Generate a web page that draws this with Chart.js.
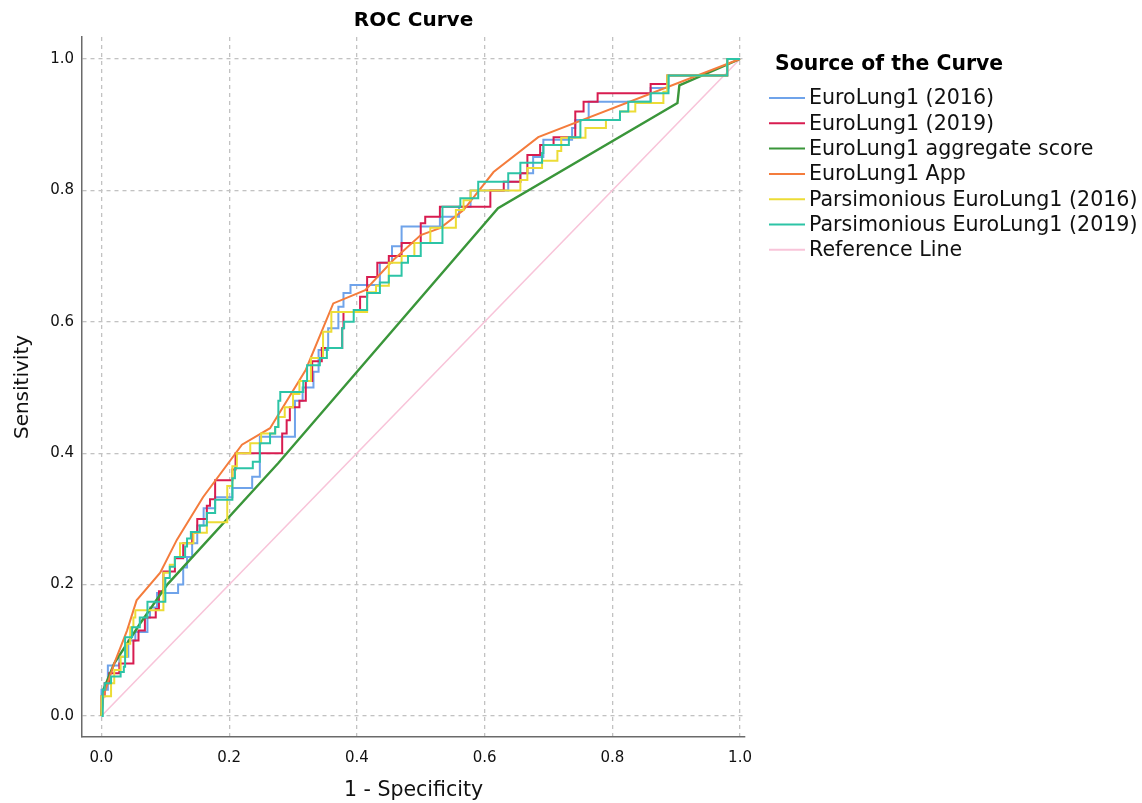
<!DOCTYPE html>
<html><head><meta charset="utf-8">
<script src="https://cdn.jsdelivr.net/npm/chart.js@4.4.1/dist/chart.umd.min.js"></script>
<style>html,body{margin:0;padding:0;background:#fff}#wrap{position:relative;width:1142px;height:803px}</style>
</head><body><div id="wrap"><canvas id="c" width="1142" height="803"></canvas></div>
<script>
// ---- data ----
const chartTitle = 'ROC Curve';
const legendTitle = 'Source of the Curve';
const xTitle = '1 - Specificity';
const yTitle = 'Sensitivity';
const tickValues = [0, 0.2, 0.4, 0.6, 0.8, 1.0];
const seriesNames = ['EuroLung1 (2016)', 'EuroLung1 (2019)', 'EuroLung1 aggregate score', 'EuroLung1 App', 'Parsimonious EuroLung1 (2016)', 'Parsimonious EuroLung1 (2019)', 'Reference Line'];

const blueX = [0,0,0.01,0.028,0.042,0.053,0.072,0.076,0.087,0.12,0.128,0.134,0.142,0.15,0.16,0.178,0.205,0.236,0.248,0.303,0.315,0.332,0.34,0.355,0.371,0.379,0.39,0.436,0.455,0.47,0.53,0.56,0.578,0.637,0.656,0.676,0.692,0.737,0.742,0.763,0.86,0.888,0.98,1];
const blueY = [0,0.04,0.077,0.09,0.115,0.128,0.15,0.165,0.187,0.2,0.226,0.242,0.263,0.29,0.316,0.333,0.347,0.364,0.425,0.48,0.5,0.524,0.557,0.59,0.623,0.644,0.656,0.69,0.715,0.745,0.76,0.775,0.8,0.813,0.826,0.851,0.877,0.895,0.907,0.935,0.956,0.975,1,1];

const redX = [0,0,0.005,0.012,0.028,0.05,0.058,0.068,0.085,0.09,0.097,0.115,0.128,0.142,0.15,0.165,0.17,0.178,0.205,0.21,0.283,0.29,0.295,0.31,0.32,0.33,0.345,0.377,0.379,0.405,0.416,0.432,0.45,0.47,0.5,0.507,0.53,0.609,0.63,0.656,0.667,0.687,0.708,0.742,0.755,0.777,0.86,0.886,0.98,1];
const redY = [0,0.03,0.05,0.065,0.08,0.115,0.13,0.15,0.163,0.19,0.22,0.24,0.263,0.279,0.3,0.32,0.33,0.359,0.375,0.4,0.43,0.45,0.47,0.48,0.51,0.54,0.56,0.59,0.615,0.638,0.668,0.69,0.7,0.72,0.75,0.76,0.775,0.8,0.813,0.826,0.854,0.869,0.881,0.92,0.935,0.948,0.962,0.975,1,1];

const greenX = [0,0.003,0.02,0.06,0.103,0.277,0.621,0.902,0.905,1];
const greenY = [0,0.04,0.08,0.14,0.2,0.385,0.773,0.933,0.96,1];

const orangeX = [0,0.003,0.02,0.04,0.055,0.092,0.118,0.159,0.22,0.264,0.32,0.363,0.413,0.457,0.5,0.531,0.567,0.614,0.684,1];
const orangeY = [0,0.03,0.08,0.13,0.176,0.218,0.268,0.333,0.413,0.438,0.527,0.628,0.648,0.694,0.732,0.743,0.77,0.828,0.881,1];

const yellowX = [0,0,0.015,0.02,0.03,0.04,0.045,0.05,0.053,0.097,0.107,0.115,0.123,0.144,0.165,0.197,0.205,0.212,0.233,0.25,0.272,0.277,0.287,0.3,0.31,0.328,0.347,0.36,0.416,0.43,0.45,0.47,0.49,0.515,0.555,0.567,0.578,0.656,0.667,0.69,0.714,0.72,0.758,0.79,0.812,0.836,0.88,0.886,0.98,1];
const yellowY = [0,0.03,0.05,0.07,0.09,0.11,0.135,0.15,0.161,0.218,0.23,0.242,0.263,0.279,0.295,0.35,0.38,0.4,0.415,0.43,0.44,0.455,0.47,0.49,0.51,0.545,0.585,0.615,0.645,0.655,0.69,0.7,0.72,0.743,0.77,0.785,0.8,0.816,0.834,0.845,0.86,0.88,0.895,0.907,0.92,0.933,0.95,0.975,1,1];

const tealX = [0,0.002,0.005,0.015,0.03,0.035,0.037,0.048,0.06,0.072,0.1,0.107,0.115,0.131,0.134,0.14,0.154,0.165,0.178,0.205,0.209,0.237,0.248,0.264,0.272,0.277,0.28,0.316,0.322,0.342,0.353,0.377,0.38,0.395,0.416,0.436,0.45,0.47,0.48,0.5,0.534,0.562,0.59,0.637,0.656,0.69,0.692,0.732,0.75,0.812,0.825,0.86,0.888,0.98,1];
const tealY = [0,0.04,0.05,0.06,0.067,0.075,0.12,0.135,0.15,0.174,0.21,0.227,0.242,0.258,0.27,0.28,0.29,0.309,0.329,0.362,0.377,0.387,0.415,0.43,0.44,0.48,0.493,0.51,0.534,0.545,0.56,0.59,0.6,0.618,0.644,0.66,0.67,0.69,0.7,0.72,0.775,0.788,0.813,0.826,0.842,0.857,0.869,0.881,0.907,0.92,0.935,0.948,0.975,1,1];

const refX = [0, 1];
const refY = [0, 1];

// ---- styles ----
const FONT = '"DejaVu Sans", "Liberation Sans", sans-serif';
const colors = ['#6fa3ea', '#d81c50', '#3a963a', '#f47c3c', '#ecdc36', '#2cc4a6', '#f8c4d9'];
const widths = [2, 2, 2.4, 2, 2, 2, 1.6];
const stepped = [true, true, false, false, true, true, false];
const orders = [6, 5, 4, 3, 2, 1, 7];
const xs = [blueX, redX, greenX, orangeX, yellowX, tealX, refX];
const ys = [blueY, redY, greenY, orangeY, yellowY, tealY, refY];

const zip = (a, b) => a.map((v, i) => ({x: v, y: b[i]}));

const datasets = seriesNames.map((name, i) => ({
  label: name,
  data: zip(xs[i], ys[i]),
  borderColor: colors[i],
  backgroundColor: colors[i],
  borderWidth: widths[i],
  pointRadius: 0,
  pointHoverRadius: 0,
  fill: false,
  tension: 0,
  stepped: stepped[i] ? 'before' : false,
  order: orders[i]
}));

const legendPlugin = {
  id: 'roclegend',
  afterDraw(chart) {
    const ctx = chart.ctx;
    ctx.save();
    ctx.fillStyle = '#000';
    ctx.textBaseline = 'middle';
    ctx.textAlign = 'left';
    ctx.font = 'bold 20.4px ' + FONT;
    ctx.fillText(legendTitle, 775, 65);
    ctx.font = '20.6px ' + FONT;
    chart.data.datasets.forEach((ds, i) => {
      const y = 98 + i * 25.3;
      ctx.strokeStyle = ds.borderColor;
      ctx.lineWidth = 2;
      ctx.beginPath();
      ctx.moveTo(769, y);
      ctx.lineTo(805, y);
      ctx.stroke();
      ctx.fillStyle = '#111';
      ctx.fillText(ds.label, 809, y + 1);
    });
    ctx.restore();
  }
};

const setTicks = (scale) => { scale.ticks = tickValues.map(v => ({value: v})); };

new Chart(document.getElementById('c'), {
  type: 'line',
  data: {datasets},
  plugins: [legendPlugin],
  options: {
    responsive: false,
    animation: false,
    devicePixelRatio: 1,
    layout: {padding: {left: 0, right: 397, top: 0, bottom: 0}},
    plugins: {
      legend: {display: false},
      tooltip: {enabled: false},
      title: {
        display: true, text: chartTitle, fullSize: false, color: '#000',
        font: {family: FONT, size: 20, weight: 'bold'},
        padding: {top: 9, bottom: 4}
      }
    },
    scales: {
      x: {
        type: 'linear', min: -0.0305, max: 1.0078,
        afterBuildTicks: setTicks,
        afterFit: (s) => { s.height = 66; },
        grid: {color: '#c2c2c2', lineWidth: 1.3, drawTicks: false},
        border: {display: true, color: '#6a6a6a', width: 1.5, dash: [4, 4]},
        ticks: {color: '#111', font: {family: FONT, size: 15}, padding: 12, maxRotation: 0, autoSkip: false,
                callback: (v) => Number(v).toFixed(1)},
        title: {display: true, text: xTitle, color: '#111', font: {family: FONT, size: 20.5}, padding: {top: 4, bottom: 0}}
      },
      y: {
        type: 'linear', min: -0.032, max: 1.0335,
        afterBuildTicks: setTicks,
        afterFit: (s) => { s.width = 82; },
        grid: {color: '#c2c2c2', lineWidth: 1.3, drawTicks: false},
        border: {display: true, color: '#6a6a6a', width: 1.5, dash: [4, 4]},
        ticks: {color: '#111', font: {family: FONT, size: 15}, padding: 8, autoSkip: false,
                callback: (v) => Number(v).toFixed(1)},
        title: {display: true, text: yTitle, color: '#111', font: {family: FONT, size: 20}, padding: {top: 11, bottom: 0}}
      }
    }
  }
});
</script>
</body></html>
